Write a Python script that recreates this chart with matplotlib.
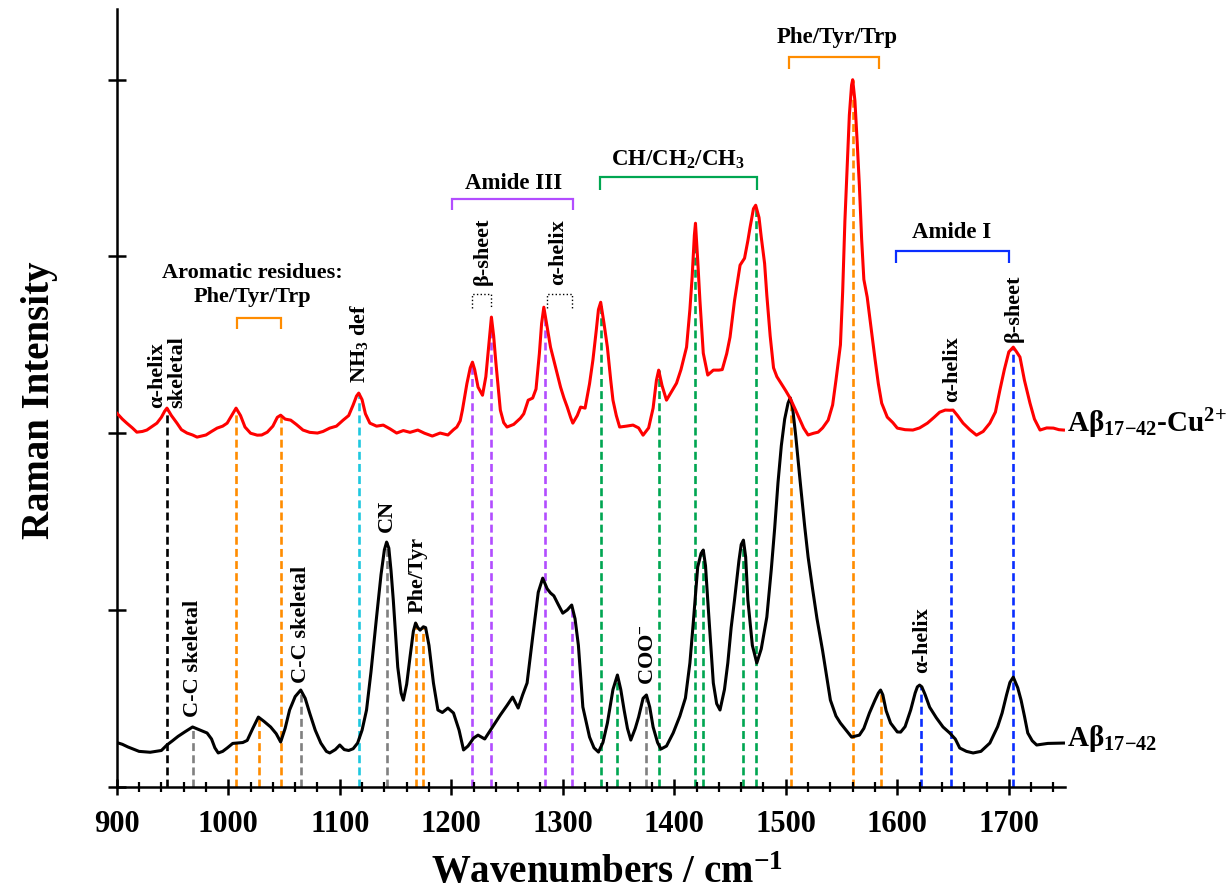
import matplotlib
matplotlib.use("Agg")
import matplotlib.pyplot as plt
import numpy as np
from matplotlib.ticker import MultipleLocator

plt.rcParams['font.family'] = ['Liberation Serif', 'DejaVu Serif']
plt.rcParams['font.weight'] = 'bold'
plt.rcParams['mathtext.fontset'] = 'custom'
plt.rcParams['mathtext.rm'] = 'Liberation Serif:bold'
plt.rcParams['mathtext.bf'] = 'Liberation Serif:bold'
plt.rcParams['mathtext.it'] = 'Liberation Serif:bold'
plt.rcParams['mathtext.default'] = 'bf'

# --- spectra (intensity in y-tick units) ---
# Abeta 17-42 (black)
wn_free = [900, 905, 910, 920, 930, 940, 945, 950, 955, 961,
           968, 975, 981, 985, 988, 991, 995, 999, 1004, 1008,
           1013, 1017, 1022, 1027, 1032, 1038, 1043, 1047, 1051, 1055,
           1060, 1065, 1069, 1073, 1078, 1083, 1088, 1091, 1096, 1100,
           1104, 1108, 1112, 1116, 1120, 1124, 1128, 1133, 1137, 1140,
           1142, 1144, 1146, 1148, 1152, 1155, 1157, 1160, 1163, 1166,
           1168, 1170, 1172, 1175, 1177, 1180, 1184, 1188, 1192, 1197,
           1202, 1207, 1211, 1215, 1220, 1224, 1230, 1237, 1244, 1250,
           1255, 1260, 1264, 1268, 1273, 1278, 1282, 1286, 1289, 1292,
           1296, 1300, 1304, 1308, 1311, 1314, 1318, 1324, 1328, 1332,
           1336, 1340, 1345, 1349, 1352, 1355, 1358, 1361, 1365, 1368,
           1372, 1375, 1378, 1381, 1385, 1388, 1393, 1399, 1405, 1410,
           1414, 1417, 1421, 1424, 1426, 1428, 1430, 1435, 1438, 1441,
           1445, 1448, 1451, 1454, 1458, 1460, 1462, 1464, 1466, 1470,
           1474, 1478, 1483, 1487, 1490, 1493, 1496, 1499, 1502, 1504,
           1506, 1509, 1513, 1517, 1520, 1524, 1528, 1533, 1537, 1540,
           1545, 1549, 1554, 1559, 1566, 1570, 1575, 1580, 1583, 1585,
           1587, 1590, 1594, 1600, 1603, 1607, 1612, 1616, 1618, 1620,
           1622, 1625, 1629, 1635, 1641, 1647, 1652, 1656, 1662, 1668,
           1675, 1683, 1690, 1694, 1698, 1701, 1704, 1706, 1708, 1711,
           1714, 1717, 1721, 1725, 1735, 1749]
int_free = [.25, .24, .225, .20, .195, .205, .236, .26, .285, .31,
            .338, .32, .304, .27, .22, .191, .20, .219, .245, .247,
            .25, .262, .33, .394, .37, .338, .30, .253, .33, .434,
            .51, .547, .50, .417, .32, .247, .20, .191, .21, .236,
            .21, .205, .215, .247, .32, .434, .65, .96, 1.20, 1.34,
            1.384, 1.35, 1.22, 1.056, .677, .53, .49, .58, .734, .88,
            .926, .90, .886, .905, .90, .80, .587, .434, .42, .445,
            .417, .32, .208, .23, .275, .292, .27, .338, .406, .46,
            .507, .445, .52, .587, .847, 1.10, 1.18, 1.12, 1.096, 1.08,
            1.03, .982, 1.00, 1.028, .95, .80, .451, .281, .22, .196,
            .25, .36, .55, .632, .55, .434, .33, .264, .33, .394,
            .50, .519, .45, .338, .25, .213, .23, .304, .40, .502,
            .70, .926, 1.243, 1.32, 1.339, 1.25, 1.056, .587, .47, .434,
            .55, .70, .90, 1.056, 1.28, 1.37, 1.395, 1.30, 1.056, .80,
            .70, .78, .96, 1.23, 1.46, 1.72, 1.93, 2.08, 2.17, 2.20,
            2.15, 1.98, 1.72, 1.47, 1.30, 1.12, .95, .77, .61, .49,
            .40, .36, .32, .281, .292, .33, .417, .49, .53, .547,
            .52, .43, .36, .31, .309, .34, .434, .53, .565, .575,
            .565, .52, .45, .39, .338, .304, .27, .219, .20, .191,
            .20, .247, .34, .417, .52, .59, .62, .59, .56, .49,
            .40, .304, .26, .236, .245, .247]

# Abeta 17-42 + Cu2+ (red)
wn_cu = [900, 905, 909, 914, 918, 923, 927, 932, 936, 940,
         943, 945, 949, 954, 958, 963, 968, 972, 980, 985,
         990, 995, 999, 1003, 1007, 1011, 1015, 1020, 1026, 1030,
         1035, 1040, 1044, 1047, 1051, 1056, 1061, 1067, 1073, 1080,
         1085, 1091, 1097, 1103, 1108, 1112, 1115, 1117, 1120, 1123,
         1127, 1133, 1139, 1145, 1151, 1157, 1163, 1170, 1176, 1183,
         1190, 1197, 1202, 1205, 1208, 1210, 1214, 1217, 1219, 1221,
         1224, 1228, 1231, 1234, 1236, 1238, 1240, 1244, 1247, 1250,
         1256, 1262, 1265, 1269, 1273, 1276, 1279, 1281, 1283, 1286,
         1289, 1294, 1298, 1301, 1304, 1307, 1309, 1313, 1316, 1320,
         1324, 1327, 1330, 1332, 1334, 1337, 1340, 1343, 1345, 1348,
         1351, 1357, 1363, 1368, 1372, 1377, 1381, 1384, 1386, 1389,
         1393, 1397, 1402, 1406, 1411, 1414, 1416, 1418, 1419, 1421,
         1423, 1426, 1430, 1435, 1440, 1443, 1447, 1450, 1454, 1459,
         1463, 1466, 1468, 1471, 1473, 1476, 1478, 1481, 1483, 1486,
         1489, 1492, 1495, 1500, 1504, 1510, 1516, 1520, 1525, 1529,
         1533, 1538, 1542, 1545, 1549, 1551, 1553, 1555, 1557, 1559,
         1560, 1562, 1564, 1566, 1568, 1570, 1573, 1576, 1580, 1583,
         1586, 1591, 1596, 1600, 1607, 1614, 1620, 1627, 1633, 1638,
         1643, 1647, 1650, 1654, 1659, 1665, 1671, 1677, 1683, 1688,
         1692, 1696, 1700, 1704, 1707, 1710, 1714, 1719, 1723, 1728,
         1734, 1740, 1745, 1749]
int_cu = [2.114, 2.08, 2.057, 2.03, 2.006, 2.01, 2.018, 2.04, 2.057, 2.09,
          2.125, 2.142, 2.10, 2.057, 2.02, 2.001, 1.99, 1.978, 1.99, 2.01,
          2.029, 2.04, 2.057, 2.10, 2.142, 2.10, 2.035, 2.00, 1.989, 1.99,
          2.006, 2.04, 2.09, 2.102, 2.08, 2.074, 2.05, 2.018, 2.005, 2.001,
          2.01, 2.029, 2.04, 2.074, 2.10, 2.16, 2.21, 2.227, 2.19, 2.11,
          2.057, 2.04, 2.046, 2.025, 2.001, 2.015, 2.005, 2.018, 2.00, 1.984,
          2.001, 1.99, 2.02, 2.035, 2.07, 2.131, 2.28, 2.37, 2.402, 2.36,
          2.261, 2.215, 2.32, 2.52, 2.657, 2.55, 2.40, 2.131, 2.06, 2.035,
          2.05, 2.085, 2.11, 2.187, 2.199, 2.25, 2.45, 2.62, 2.713, 2.60,
          2.487, 2.36, 2.261, 2.20, 2.148, 2.09, 2.057, 2.10, 2.148, 2.142,
          2.28, 2.413, 2.58, 2.70, 2.741, 2.62, 2.487, 2.30, 2.187, 2.10,
          2.035, 2.04, 2.046, 2.03, 1.989, 2.03, 2.142, 2.30, 2.357, 2.27,
          2.187, 2.23, 2.283, 2.36, 2.487, 2.70, 2.883, 3.12, 3.188, 2.979,
          2.75, 2.453, 2.329, 2.357, 2.357, 2.36, 2.45, 2.544, 2.75, 2.951,
          2.99, 3.09, 3.166, 3.27, 3.29, 3.22, 3.109, 2.96, 2.78, 2.55,
          2.37, 2.32, 2.29, 2.24, 2.197, 2.114, 2.029, 1.99, 2.00, 2.006,
          2.03, 2.074, 2.16, 2.30, 2.50, 2.80, 3.20, 3.50, 3.80, 3.97,
          4.00, 3.88, 3.65, 3.40, 3.10, 2.87, 2.77, 2.62, 2.42, 2.28,
          2.17, 2.091, 2.06, 2.029, 2.02, 2.018, 2.03, 2.057, 2.09, 2.119,
          2.131, 2.13, 2.131, 2.10, 2.057, 2.02, 1.989, 2.01, 2.057, 2.12,
          2.244, 2.36, 2.46, 2.487, 2.46, 2.431, 2.30, 2.17, 2.08, 2.018,
          2.03, 2.029, 2.02, 2.018]

# band markers: position, group colour, spectrum the dashed line reaches
ORANGE = '#ff8c00'
CYAN = '#1ec8df'
PURPLE = '#b24dff'
GREEN = '#00a651'
BLUE = '#0a2eff'
GRAY = '#808080'
band_wn = [945, 968, 1007, 1028, 1047, 1065, 1117, 1142, 1168, 1175,
           1219, 1236, 1284, 1308, 1334, 1349, 1375, 1386, 1419, 1426,
           1462, 1473, 1505, 1560, 1585, 1621, 1648, 1704]
band_col = ['black', GRAY, ORANGE, ORANGE, ORANGE, GRAY, CYAN, GRAY, ORANGE, ORANGE,
            PURPLE, PURPLE, PURPLE, PURPLE, GREEN, GREEN, GRAY, GREEN, GREEN, GREEN,
            GREEN, GREEN, ORANGE, ORANGE, ORANGE, BLUE, BLUE, BLUE]
band_on = ['cu', 'free', 'cu', 'free', 'cu', 'free', 'cu', 'free', 'free', 'free',
           'cu', 'cu', 'cu', 'free', 'cu', 'free', 'free', 'cu', 'cu', 'free',
           'free', 'cu', 'cu', 'cu', 'free', 'free', 'cu', 'cu']

fig = plt.figure(figsize=(12.29, 8.94), dpi=100)
ax = fig.add_axes([0.095, 0.12, 0.7712, 0.8699])

# dashed assignment lines
for x, c, on in zip(band_wn, band_col, band_on):
    if on == 'cu':
        top = np.interp(x, wn_cu, int_cu)
    else:
        top = np.interp(x, wn_free, int_free)
    ax.plot([x, x], [0, top], color=c, lw=1.9, ls=(0, (3, 1.6)), zorder=1)

ax.plot(wn_free, int_free, color='black', lw=2.2, zorder=3)
ax.plot(wn_cu, int_cu, color='#ff0000', lw=2.2, zorder=4)


def bracket(x0, x1, y, h, color, ls='-', lw=1.6):
    ax.plot([x0, x0, x1, x1], [y - h, y, y, y - h], color=color, ls=ls,
            lw=lw, solid_joinstyle='miter', solid_capstyle='butt', zorder=2)


# group brackets and titles
bracket(1008, 1047, 2.651, 0.06, ORANGE)
ax.text(1021.5, 2.837, 'Aromatic residues:\nPhe/Tyr/Trp', ha='center', va='center',
        fontsize=16, linespacing=1.25)
bracket(1201, 1309, 3.323, 0.06, PURPLE)
ax.text(1255.5, 3.414, 'Amide III', ha='center', va='center', fontsize=16.5)
bracket(1333, 1474, 3.448, 0.07, GREEN)
ax.text(1403, 3.544, 'CH/CH$_2$/CH$_3$', ha='center', va='center', fontsize=16.5)
bracket(1503, 1584, 4.127, 0.065, ORANGE)
ax.text(1546, 4.24, 'Phe/Tyr/Trp', ha='center', va='center', fontsize=16.5)
bracket(1599, 1700, 3.029, 0.065, BLUE)
ax.text(1649, 3.136, 'Amide I', ha='center', va='center', fontsize=16.5)
bracket(1219, 1236, 2.786, 0.08, 'black', ls=':', lw=1.0)
bracket(1286, 1308, 2.786, 0.08, 'black', ls=':', lw=1.0)

# rotated peak labels
rot = dict(rotation=90, ha='center', va='bottom', fontsize=16)
ax.text(945, 2.142, 'α-helix\nskeletal', multialignment='left', linespacing=1.0, **rot)
ax.text(1117, 2.283, 'NH$_3$ def', **rot)
ax.text(1228, 2.836, 'β-sheet', **rot)
ax.text(1296, 2.836, 'α-helix', **rot)
ax.text(1649, 2.176, 'α-helix', **rot)
ax.text(1704, 2.515, 'β-sheet', **rot)
ax.text(968, 0.394, 'C-C skeletal', **rot)
ax.text(1065, 0.587, 'C-C skeletal', **rot)
ax.text(1142, 1.44, 'CN', **rot)
ax.text(1170, 0.982, 'Phe/Tyr', **rot)
ax.text(1376, 0.575, 'COO$^{-}$', **rot)
ax.text(1622, 0.643, 'α-helix', **rot)

# spectrum names
ax.text(1752, 2.055, 'Aβ$_{17{-}42}$-Cu$^{2{+}}$', ha='left', va='center', fontsize=21)
ax.text(1752, 0.275, 'Aβ$_{17{-}42}$', ha='left', va='center', fontsize=21)

ax.set_xlim(900, 1750)
ax.set_ylim(0, 4.4)
for s in ['top', 'right']:
    ax.spines[s].set_visible(False)
for s in ['left', 'bottom']:
    ax.spines[s].set_linewidth(1.8)

ax.xaxis.set_major_locator(MultipleLocator(100))
ax.xaxis.set_minor_locator(MultipleLocator(20))
ax.yaxis.set_major_locator(MultipleLocator(1))
ax.tick_params(axis='x', which='major', direction='inout', length=12, width=1.8,
               labelsize=22, pad=11)
ax.tick_params(axis='x', which='minor', direction='inout', length=7, width=1.6)
ax.tick_params(axis='y', which='major', direction='inout', length=12.5, width=1.8,
               labelleft=False)

fig.text(40 / 1229, 1 - 400 / 894, 'Raman Intensity', rotation=90, ha='center',
         va='center', fontsize=28)
fig.text(607 / 1229, 1 - 883 / 894, 'Wavenumbers / cm$^{-1}$', ha='center',
         va='baseline', fontsize=28)

fig.savefig('out.png', dpi=100)
